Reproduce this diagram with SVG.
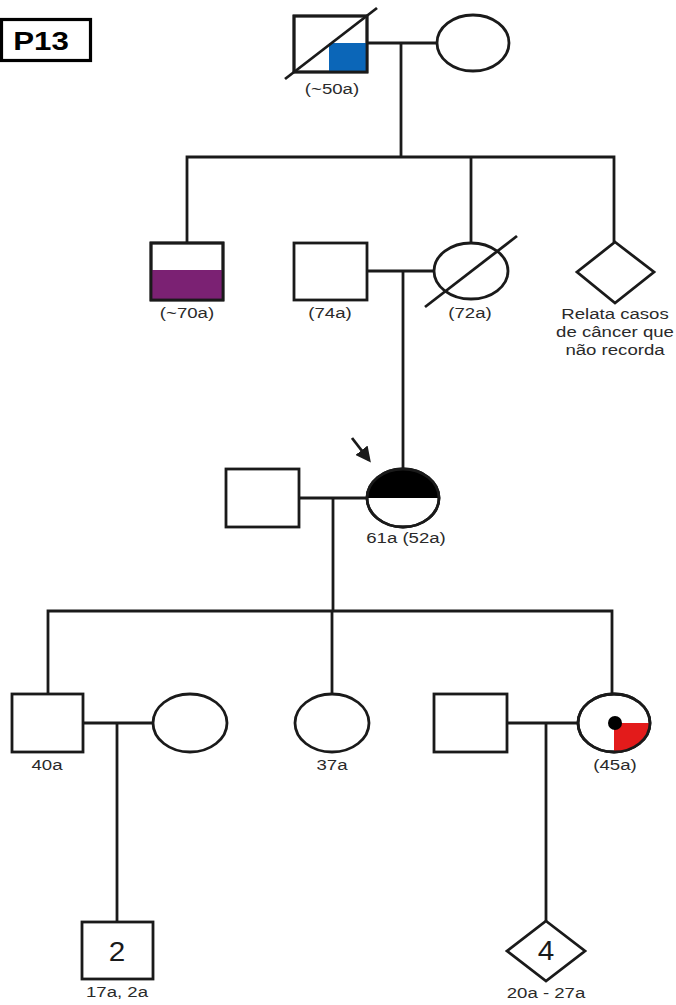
<svg xmlns="http://www.w3.org/2000/svg" width="676" height="1005" viewBox="0 0 676 1005">
  <style>
    .ln { fill: none; stroke: #1a1a1a; stroke-width: 2.8; }
    .sym { fill: #ffffff; stroke: #1a1a1a; stroke-width: 2.8; }
    .lbl { font-family: "Liberation Sans", Arial, sans-serif; font-size: 15.5px; fill: #2a2a2a; text-anchor: middle; }
    .num { font-family: "Liberation Sans", Arial, sans-serif; font-size: 27px; fill: #1a1a1a; text-anchor: middle; }
  </style>
  <defs>
    <marker id="arrowhead" viewBox="0 0 10 10" refX="8" refY="5" markerWidth="5.5" markerHeight="5.5" orient="auto" markerUnits="strokeWidth">
      <path d="M0,0 L10,5 L0,10 Z" fill="#1a1a1a"/>
    </marker>
    <clipPath id="clip-proband"><ellipse cx="403" cy="498" rx="36" ry="29"/></clipPath>
    <clipPath id="clip-sister"><ellipse cx="614" cy="723" rx="36" ry="29"/></clipPath>
  </defs>
  <rect width="676" height="1005" fill="#ffffff"/>

  <!-- Family label -->
  <g id="family-tag">
    <rect x="1.5" y="19.5" width="89" height="41" fill="#ffffff" stroke="#000" stroke-width="3.2"/>
    <text transform="translate(41,50) scale(1.25,1)" font-family="Liberation Sans, Arial, sans-serif" font-weight="bold" font-size="25" text-anchor="middle" fill="#000">P13</text>
  </g>

  <!-- Connectors -->
  <g id="connectors">
    <!-- generation I -->
    <line class="ln" x1="367" y1="43" x2="437" y2="43"/>
    <line class="ln" x1="401" y1="43" x2="401" y2="157"/>
    <polyline class="ln" points="187,243 187,157 614,157 614,242"/>
    <line class="ln" x1="471" y1="157" x2="471" y2="243"/>
    <!-- generation II -->
    <line class="ln" x1="367" y1="271" x2="434" y2="271"/>
    <line class="ln" x1="403" y1="271" x2="403" y2="469"/>
    <!-- generation III -->
    <line class="ln" x1="299" y1="498" x2="367" y2="498"/>
    <line class="ln" x1="333" y1="498" x2="333" y2="611"/>
    <polyline class="ln" points="48,694 48,611 612,611 612,694"/>
    <line class="ln" x1="332" y1="611" x2="332" y2="694"/>
    <!-- generation IV -->
    <line class="ln" x1="83" y1="723" x2="153" y2="723"/>
    <line class="ln" x1="117" y1="723" x2="117" y2="922"/>
    <line class="ln" x1="507" y1="723" x2="578" y2="723"/>
    <line class="ln" x1="546" y1="723" x2="546" y2="921"/>
  </g>

  <!-- Generation I -->
  <g id="grandfather">
    <rect class="sym" x="294" y="16" width="73" height="56"/>
    <rect x="329" y="43" width="38" height="29" fill="#0b66b8"/>
    <rect x="294" y="16" width="73" height="56" fill="none" stroke="#1a1a1a" stroke-width="2.8"/>
    <line class="ln" x1="285" y1="79" x2="377" y2="8"/>
    <text class="lbl" transform="translate(332,94) scale(1.2,1)">(~50a)</text>
  </g>
  <g id="grandmother">
    <ellipse class="sym" cx="473" cy="43" rx="36" ry="28"/>
  </g>

  <!-- Generation II -->
  <g id="uncle">
    <rect class="sym" x="151" y="243" width="72" height="57"/>
    <rect x="151" y="270" width="72" height="30" fill="#7b2173"/>
    <rect x="151" y="243" width="72" height="57" fill="none" stroke="#1a1a1a" stroke-width="2.8"/>
    <text class="lbl" transform="translate(187,318) scale(1.2,1)">(~70a)</text>
  </g>
  <g id="father">
    <rect class="sym" x="294" y="243" width="73" height="57"/>
    <text class="lbl" transform="translate(330,318) scale(1.2,1)">(74a)</text>
  </g>
  <g id="mother">
    <ellipse class="sym" cx="471" cy="271" rx="37" ry="28"/>
    <line class="ln" x1="425" y1="307" x2="517" y2="236"/>
    <text class="lbl" transform="translate(470,318) scale(1.2,1)">(72a)</text>
  </g>
  <g id="relative-unknown-sex">
    <polygon class="sym" points="615,242 654,272 615,303 577,272"/>
    <text class="lbl" transform="translate(615,319) scale(1.2,1)">Relata casos</text>
    <text class="lbl" transform="translate(615,337) scale(1.2,1)">de câncer que</text>
    <text class="lbl" transform="translate(615,355) scale(1.2,1)">não recorda</text>
  </g>

  <!-- Generation III -->
  <g id="husband">
    <rect class="sym" x="226" y="469" width="73" height="58"/>
  </g>
  <g id="proband">
    <ellipse class="sym" cx="403" cy="498" rx="36" ry="29"/>
    <rect x="360" y="465" width="90" height="33" fill="#000" clip-path="url(#clip-proband)"/>
    <ellipse cx="403" cy="498" rx="36" ry="29" fill="none" stroke="#1a1a1a" stroke-width="2.8"/>
    <line x1="352" y1="438" x2="369" y2="460" stroke="#1a1a1a" stroke-width="2.8" marker-end="url(#arrowhead)"/>
    <text class="lbl" transform="translate(406,543) scale(1.2,1)">61a (52a)</text>
  </g>

  <!-- Generation IV -->
  <g id="son">
    <rect class="sym" x="12" y="694" width="71" height="58"/>
    <text class="lbl" transform="translate(47,770) scale(1.2,1)">40a</text>
  </g>
  <g id="daughter-in-law">
    <ellipse class="sym" cx="190" cy="723" rx="37" ry="29"/>
  </g>
  <g id="daughter">
    <ellipse class="sym" cx="332" cy="723" rx="37" ry="29"/>
    <text class="lbl" transform="translate(332,770) scale(1.2,1)">37a</text>
  </g>
  <g id="son-in-law">
    <rect class="sym" x="434" y="694" width="73" height="58"/>
  </g>
  <g id="affected-daughter">
    <ellipse class="sym" cx="614" cy="723" rx="36" ry="29"/>
    <rect x="614" y="723" width="40" height="32" fill="#e31b1b" clip-path="url(#clip-sister)"/>
    <ellipse cx="614" cy="723" rx="36" ry="29" fill="none" stroke="#1a1a1a" stroke-width="2.8"/>
    <circle cx="615" cy="723" r="7" fill="#000"/>
    <text class="lbl" transform="translate(615,770) scale(1.2,1)">(45a)</text>
  </g>

  <!-- Generation V -->
  <g id="grandsons">
    <rect class="sym" x="82" y="922" width="71" height="57"/>
    <text class="num" transform="translate(117,961) scale(1.1,1)">2</text>
    <text class="lbl" transform="translate(117,997) scale(1.2,1)">17a, 2a</text>
  </g>
  <g id="grandchildren">
    <polygon class="sym" points="546,921 585,951 546,981 507,951"/>
    <text class="num" transform="translate(546,960) scale(1.1,1)">4</text>
    <text class="lbl" transform="translate(546,998) scale(1.2,1)">20a - 27a</text>
  </g>
</svg>
